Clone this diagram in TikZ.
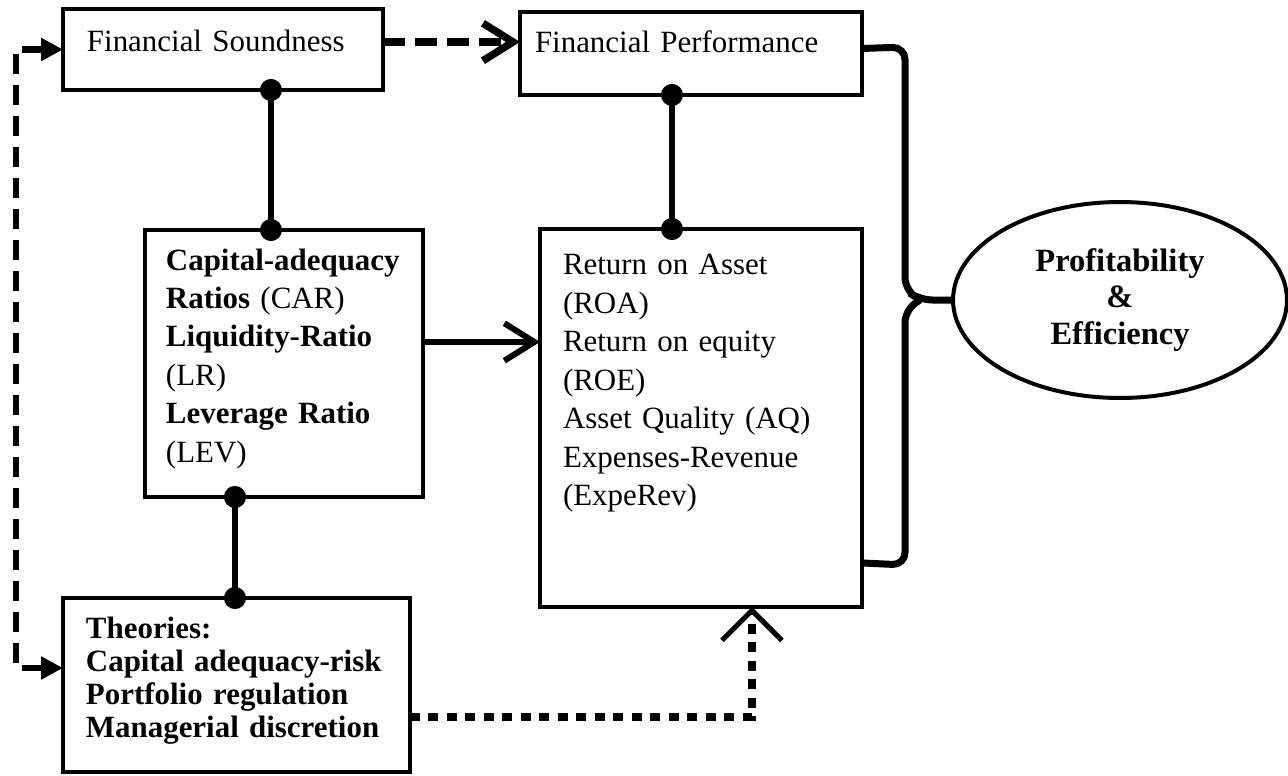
\documentclass[tikz,border=0pt]{standalone}
\usepackage{fontspec}
\setmainfont{Liberation Serif}
\usetikzlibrary{arrows.meta,shapes.geometric}
\begin{document}
\begin{tikzpicture}[x=0.02cm, y=-0.02cm]

\tikzset{box/.style={draw=black, line width=0.08cm, anchor=north west, align=left, inner ysep=0pt, outer sep=0pt, font=\fontsize{17.6}{21.9}\selectfont}}
\tikzset{link/.style={line width=0.12cm}}
\tikzset{pin/.style={link, {Circle[length=0.44cm]}-{Circle[length=0.44cm]}, shorten <=-0.22cm, shorten >=-0.22cm}}
\tikzset{barb/.style={-{Straight Barb[length=0.6cm, width=0.75cm]}}}
\tikzset{dashlink/.style={line width=0.15cm, dash pattern=on 0.44cm off 0.2cm}}
\tikzset{sidelink/.style={line width=0.13cm, dash pattern=on 0.4cm off 0.22cm, {Triangle[length=0.44cm, width=0.44cm]}-{Triangle[length=0.44cm, width=0.44cm]}}}
\tikzset{dotlink/.style={line width=0.16cm, dash pattern=on 0.2cm off 0.17cm, -{Straight Barb[length=0.6cm, width=1.2cm, line width=0.1cm]}}}
\tikzset{brace/.style={line width=0.14cm, rounded corners=0.25cm}}

\useasboundingbox (0,0) rectangle (1288,775);

\node[box, text width=5.44cm, inner xsep=0.48cm, text height=0.86cm, text depth=0.76cm] (fs) at (63,9) {Financial Soundness};
\node[box, text width=6.24cm, inner xsep=0.3cm, text height=0.82cm, text depth=0.84cm] (fp) at (520,12) {Financial Performance};
\node[box, text width=4.72cm, inner xsep=0.42cm, text height=0.8cm, text depth=4.54cm] (ratio) at (145,230) {\textbf{Capital-adequacy}\\ \textbf{Ratios} (CAR)\\ \textbf{Liquidity-Ratio}\\ (LR)\\ \textbf{Leverage Ratio}\\ (LEV)};
\node[box, text width=5.52cm, inner xsep=0.46cm, text height=0.92cm, text depth=6.64cm] (perf) at (540,229) {Return on Asset\\ (ROA)\\ Return on equity\\ (ROE)\\ Asset Quality (AQ)\\ Expenses-Revenue\\ (ExpeRev)};
\node[box, text width=6.02cm, inner xsep=0.46cm, text height=0.8cm, text depth=2.68cm, font=\fontsize{17.6}{18.8}\selectfont\bfseries] (theo) at (63,598) {Theories:\\ Capital adequacy-risk\\ Portfolio regulation\\ Managerial discretion};
\node[ellipse, draw=black, line width=0.08cm, minimum width=6.68cm, minimum height=3.92cm, inner sep=0pt, align=center, font=\fontsize{18.5}{21}\selectfont\bfseries] (prof) at (1120,300) {Profitability\\ \&\\ Efficiency};

\draw[pin] ([xshift=-0.26cm]ratio.north) -- ([xshift=-0.26cm]ratio.north |- fs.south);
\draw[pin] ([xshift=-0.58cm]perf.north) -- ([xshift=-0.58cm]perf.north |- fp.south);
\draw[pin] ([xshift=-0.98cm]ratio.south) -- ([xshift=-0.98cm]ratio.south |- theo.north);

\draw[link, barb] ([yshift=0.43cm]ratio.east) -- ([yshift=0.43cm]ratio.east -| perf.west);
\draw[dashlink, barb] ([yshift=0.15cm]fs.east) -- ([yshift=0.15cm]fs.east -| fp.west);
\draw[sidelink] ([yshift=0.34cm]theo.west) -- ++(-0.94cm,0) |- (fs.west);
\draw[dotlink] ([yshift=-0.64cm]theo.east) -| ([xshift=1.02cm]perf.south);

\draw[brace] ([yshift=0.1cm]fp.east) -- (905,47) -- (905,290) -- (920,300) -- (prof.west);
\draw[brace] ([yshift=0.88cm]perf.south east) -- (905,565) -- (905,310) -- (920,300);

\end{tikzpicture}
\end{document}
